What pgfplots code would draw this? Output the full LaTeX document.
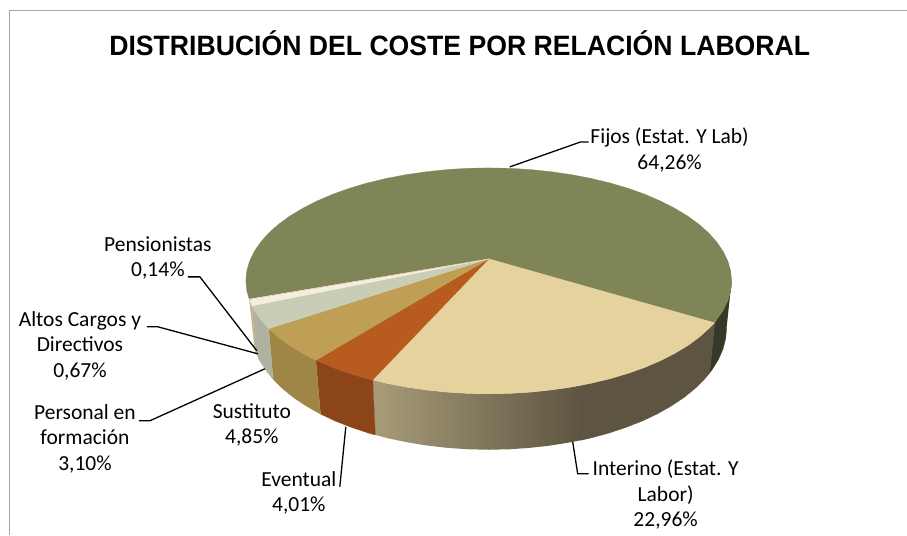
\documentclass[border=0pt]{standalone}
\usepackage{fontspec}
\setmainfont{Carlito}
\newfontfamily\titlefont{Liberation Sans}
\usepackage{graphicx}
\usepackage{pgfplots}
\pgfplotsset{compat=1.18}
\definecolor{fijos}{HTML}{7F8556}
\definecolor{fijosside}{HTML}{353A28}
\definecolor{interino}{HTML}{E6D29C}
\definecolor{intlight}{HTML}{A89C78}
\definecolor{intdark}{HTML}{5D5441}
\definecolor{eventual}{HTML}{B85B1F}
\definecolor{evside}{HTML}{8C4519}
\definecolor{sustituto}{HTML}{BF9E55}
\definecolor{susside}{HTML}{A08646}
\definecolor{personal}{HTML}{C9CDB5}
\definecolor{perside}{HTML}{AEB29E}
\definecolor{altos}{HTML}{F4EEDD}
\definecolor{altside}{HTML}{C4B68E}
\definecolor{pension}{HTML}{E9C0A0}
\begin{document}
\begin{tikzpicture}
\begin{axis}[
    scale only axis,
    width=907pt, height=535pt,
    xmin=0, xmax=907, ymin=0, ymax=535,
    y dir=reverse,
    hide axis,
    clip=false,
]
% keeps the whole page in the bounding box
\path (axis cs:0,0) rectangle (axis cs:907,535);
% frame
\addplot[draw=black!35, line width=1pt] coordinates {(907,10.5) (9.5,10.5) (9.5,535)};

% side walls
\addplot[draw=fijosside, fill=fijosside, line width=.3pt] coordinates {
(732,281) (731.1,290.9) (728.3,300.6) (723.7,310.2) (717.3,319.6) (715,323)
(710,373.3) (712.6,369.7) (718.9,359.6) (723.4,349.2) (726.1,338.6) (727,328)};
\addplot[draw=none, left color=intlight, right color=intdark] coordinates {
(373,380) (386.3,383.4) (405.9,387.2) (426.1,390.1) (446.8,392.3) (467.8,393.6) (489,394)
(510.2,393.6) (531.2,392.3) (551.9,390.1) (572.1,387.2) (584,385)
(582,440.3) (570.4,442.6) (550.6,445.8) (530.3,448.1) (509.8,449.5) (489,450) (468.2,449.5)
(447.7,448.1) (427.4,445.8) (407.6,442.6) (388.4,438.6) (375.5,435.2)};
\addplot[draw=intdark, fill=intdark, line width=.3pt] coordinates {
(583,385.2) (591.7,383.4) (610.5,378.9) (628.4,373.6) (645.2,367.6) (660.8,360.9)
(675.1,353.6) (688.1,345.8) (699.4,337.5) (709.2,328.8) (715,323)
(710,373.3) (704.7,379.6) (695.1,389) (684,398) (671.3,406.4) (657.3,414.3)
(642,421.5) (625.5,427.9) (608,433.7) (589.6,438.6) (581,440.5)};
\addplot[draw=evside, fill=evside, line width=.3pt] coordinates {
(316,360.4) (332.8,367.6) (349.6,373.6) (367.5,378.9) (373,380)
(375.5,435.2) (370,433.7) (352.5,427.9) (336,421.5) (320.7,414.3)};
\addplot[draw=susside, fill=susside, line width=.3pt] coordinates {
(268.8,328.8) (278.6,337.5) (289.9,345.8) (302.9,353.6) (316,360.4)
(320.7,414.3) (306.7,406.4) (294,398) (282.9,389) (273.3,379.6)};
\addplot[draw=perside, fill=perside, line width=.3pt] coordinates {
(252,306) (254.3,310.2) (260.7,319.6) (268.8,328.8)
(273.3,379.6) (265.4,369.7) (259.1,359.6) (256,352)};
\addplot[draw=altside, fill=altside, line width=.3pt] coordinates {
(249.3,299) (252,306) (256,352) (254.6,349.2)};

% top faces
\addplot[draw=fijos, fill=fijos, line width=.3pt] coordinates {
(489,259) (715,323) (717.3,319.6) (723.7,310.2) (728.3,300.6) (731.1,290.9) (732,281)
(731.1,271.1) (728.3,261.4) (723.7,251.8) (717.3,242.4) (709.2,233.2) (699.4,224.5)
(688.1,216.2) (675.1,208.4) (660.8,201.1) (645.2,194.4) (628.4,188.4) (610.5,183.1)
(591.7,178.6) (572.1,174.8) (551.9,171.9) (531.2,169.7) (510.2,168.4) (489,168)
(467.8,168.4) (446.8,169.7) (426.1,171.9) (405.9,174.8) (386.3,178.6) (367.5,183.1)
(349.6,188.4) (332.8,194.4) (317.2,201.1) (302.9,208.4) (289.9,216.2) (278.6,224.5)
(268.8,233.2) (260.7,242.4) (254.3,251.8) (249.7,261.4) (246.9,271.1) (246,281)
(246.9,290.9) (249.3,299)};
\addplot[draw=interino, fill=interino, line width=.3pt] coordinates {
(489,259) (715,323) (709.2,328.8) (699.4,337.5) (688.1,345.8) (675.1,353.6) (660.8,360.9)
(645.2,367.6) (628.4,373.6) (610.5,378.9) (591.7,383.4) (572.1,387.2) (551.9,390.1)
(531.2,392.3) (510.2,393.6) (489,394) (467.8,393.6) (446.8,392.3) (426.1,390.1)
(405.9,387.2) (386.3,383.4) (373,380)};
\addplot[draw=eventual, fill=eventual, line width=.3pt] coordinates {
(489,259) (373,380) (367.5,378.9) (349.6,373.6) (332.8,367.6) (316,360.4)};
\addplot[draw=sustituto, fill=sustituto, line width=.3pt] coordinates {
(489,259) (316,360.4) (302.9,353.6) (289.9,345.8) (278.6,337.5) (268.8,328.8)};
\addplot[draw=personal, fill=personal, line width=.3pt] coordinates {
(489,259) (268.8,328.8) (260.7,319.6) (254.3,310.2) (252,306)};
\addplot[draw=altos, fill=altos, line width=.1pt] coordinates {
(489,259) (252,306) (250,300.6)};
\addplot[draw=pension, line width=.5pt] coordinates {
(489,259) (249.6,299.8)};

% leader lines
\addplot[black, line width=1.3pt] coordinates {(510,167) (581,142) (589,142)};
\addplot[black, line width=1.3pt] coordinates {(188,277) (200,277) (257,351)};
\addplot[black, line width=1.3pt] coordinates {(147,327) (158,327) (258,354)};
\addplot[black, line width=1.3pt] coordinates {(139,421) (150,421) (265,369)};
\addplot[black, line width=1.3pt] coordinates {(346,427) (340,487)};
\addplot[black, line width=1.3pt] coordinates {(573,442) (578,474) (589,474)};

% title and data labels
\node[font=\titlefont\bfseries\fontsize{28}{32}\selectfont] at (axis cs:460,43) {\scalebox{.951}[1]{DISTRIBUCIÓN DEL COSTE POR RELACIÓN LABORAL}};
\tikzset{lab/.style={align=center, inner sep=0pt, font=\fontsize{21.5}{25.5}\selectfont}}
\node[lab] at (axis cs:670,150) {Fijos (Estat. Y Lab)\\64,26\%};
\node[lab] at (axis cs:158,258) {Pensionistas\\0,14\%};
\node[lab] at (axis cs:80,346) {Altos Cargos y\\Directivos\\0,67\%};
\node[lab] at (axis cs:85,439) {Personal en\\formación\\3,10\%};
\node[lab] at (axis cs:252,425) {Sustituto\\4,85\%};
\node[lab] at (axis cs:299,493) {Eventual\\4,01\%};
\node[lab] at (axis cs:666,495) {Interino (Estat. Y\\Labor)\\22,96\%};
\end{axis}
\end{tikzpicture}
\end{document}
